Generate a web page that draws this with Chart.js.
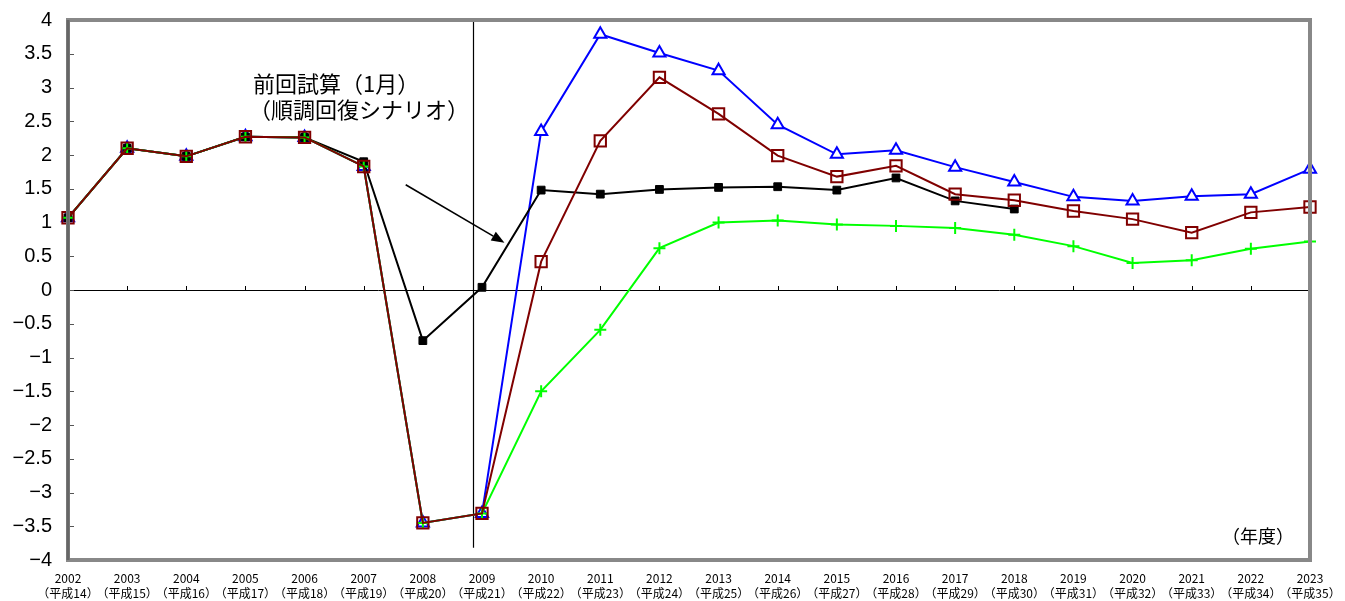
<!DOCTYPE html>
<html>
<head>
<meta charset="utf-8">
<script src="https://cdn.jsdelivr.net/npm/chart.js@4.4.1/dist/chart.umd.min.js"></script>
<style>
  html, body { margin: 0; padding: 0; background: #ffffff; }
  #wrap { width: 1345px; height: 601px; position: relative; }
</style>
</head>
<body>
<div id="wrap"><canvas id="c" width="1345" height="601"></canvas></div>
<script>
// 年度 (fiscal years) and their Heisei-era equivalents
const years = ['2002','2003','2004','2005','2006','2007','2008','2009','2010','2011','2012','2013','2014','2015','2016','2017','2018','2019','2020','2021','2022','2023'];
const heisei = ['（平成14）','（平成15）','（平成16）','（平成17）','（平成18）','（平成19）','（平成20）','（平成21）','（平成22）','（平成23）','（平成24）','（平成25）','（平成26）','（平成27）','（平成28）','（平成29）','（平成30）','（平成31）','（平成32）','（平成33）','（平成34）','（平成35）'];

// 前回試算（1月）（順調回復シナリオ） — ends in 2018
const previousEstimate = [1.07, 2.10, 1.98, 2.27, 2.26, 1.90, -0.75, 0.04, 1.48, 1.42, 1.49, 1.52, 1.53, 1.48, 1.66, 1.32, 1.20, null, null, null, null, null];
// triangle series (highest path)
const highCase = [1.07, 2.10, 1.98, 2.27, 2.26, 1.83, -3.45, -3.31, 2.35, 3.79, 3.51, 3.25, 2.45, 2.01, 2.07, 1.82, 1.60, 1.38, 1.32, 1.39, 1.42, 1.79];
// square series (middle path)
const midCase = [1.07, 2.10, 1.98, 2.27, 2.26, 1.83, -3.45, -3.31, 0.42, 2.21, 3.15, 2.61, 1.99, 1.68, 1.84, 1.42, 1.33, 1.17, 1.05, 0.85, 1.15, 1.23];
// cross series (lowest path)
const lowCase = [1.07, 2.10, 1.98, 2.27, 2.26, 1.83, -3.45, -3.31, -1.50, -0.59, 0.62, 1.00, 1.03, 0.97, 0.95, 0.92, 0.82, 0.65, 0.40, 0.44, 0.61, 0.72];

const yTicks = [4, 3.5, 3, 2.5, 2, 1.5, 1, 0.5, 0, -0.5, -1, -1.5, -2, -2.5, -3, -3.5, -4];

const noteLines = ['前回試算（1月）', '（順調回復シナリオ）'];
const unitLabel = '（年度）';

const JP = '"Noto Sans CJK JP", "Noto Sans", sans-serif';
const NUM = '"Liberation Sans", Arial, sans-serif';

function fmtTick(v) {
  const s = String(Math.abs(v));
  return v < 0 ? '\u2212' + s : s;
}

// frame, inner tick marks, zero line, divider and annotation
const decor = {
  id: 'decor',
  beforeDatasetsDraw(chart) {
    const { ctx, chartArea: a, scales: { x, y } } = chart;
    ctx.save();
    // zero line with small upward ticks at each year
    const y0 = y.getPixelForValue(0);
    ctx.strokeStyle = '#000';
    ctx.lineWidth = 1;
    ctx.beginPath();
    ctx.moveTo(a.left, Math.round(y0) + 0.5);
    ctx.lineTo(a.right, Math.round(y0) + 0.5);
    for (let i = 0; i < years.length; i++) {
      const px = Math.round(x.getPixelForValue(i)) + 0.5;
      ctx.moveTo(px, Math.round(y0) + 0.5);
      ctx.lineTo(px, Math.round(y0) - 4);
    }
    ctx.stroke();
    // inner y tick marks on left axis
    ctx.strokeStyle = '#555';
    ctx.beginPath();
    yTicks.forEach(v => {
      const py = Math.round(y.getPixelForValue(v)) + 0.5;
      ctx.moveTo(a.left, py);
      ctx.lineTo(a.left + 6, py);
    });
    ctx.stroke();
    // divider between actual and projected years
    const xd = Math.round(x.getPixelForValue(6.85)) + 0.5;
    ctx.strokeStyle = '#000';
    ctx.lineWidth = 1.2;
    ctx.beginPath();
    ctx.moveTo(xd, a.top);
    ctx.lineTo(xd, y.getPixelForValue(-3.82));
    ctx.stroke();
    ctx.restore();
  },
  afterDraw(chart) {
    const { ctx, chartArea: a, scales: { x, y } } = chart;
    ctx.save();
    // outer frame
    ctx.strokeStyle = '#888';
    ctx.lineWidth = 4;
    ctx.strokeRect(a.left, a.top, a.right - a.left, a.bottom - a.top);
    ctx.strokeStyle = '#666';
    ctx.lineWidth = 3;
    ctx.beginPath();
    ctx.moveTo(a.left, a.top);
    ctx.lineTo(a.left, a.bottom);
    ctx.stroke();

    // annotation text
    ctx.fillStyle = '#000';
    ctx.font = '22px ' + JP;
    ctx.textBaseline = 'middle';
    ctx.textAlign = 'left';
    const tx = x.getPixelForValue(3.13);
    ctx.fillText(noteLines[0], tx, y.getPixelForValue(3.05));
    ctx.fillText(noteLines[1], tx - 4, y.getPixelForValue(2.67));

    // annotation arrow
    const sx = x.getPixelForValue(5.71), sy = y.getPixelForValue(1.56);
    const ex = x.getPixelForValue(7.38), ey = y.getPixelForValue(0.70);
    const ang = Math.atan2(ey - sy, ex - sx);
    const hl = 13, hw = 5;
    ctx.strokeStyle = '#000';
    ctx.lineWidth = 1.6;
    ctx.beginPath();
    ctx.moveTo(sx, sy);
    ctx.lineTo(ex - hl * Math.cos(ang), ey - hl * Math.sin(ang));
    ctx.stroke();
    ctx.beginPath();
    ctx.moveTo(ex, ey);
    ctx.lineTo(ex - hl * Math.cos(ang) + hw * Math.sin(ang), ey - hl * Math.sin(ang) - hw * Math.cos(ang));
    ctx.lineTo(ex - hl * Math.cos(ang) - hw * Math.sin(ang), ey - hl * Math.sin(ang) + hw * Math.cos(ang));
    ctx.closePath();
    ctx.fill();

    // unit label
    ctx.font = '18px ' + JP;
    ctx.textAlign = 'right';
    ctx.fillText(unitLabel, a.right - 16, y.getPixelForValue(-3.65));
    ctx.restore();
  }
};

const whiteBg = {
  id: 'whiteBg',
  beforeDraw(chart) {
    const { ctx } = chart;
    ctx.save();
    ctx.fillStyle = '#fff';
    ctx.fillRect(0, 0, chart.width, chart.height);
    ctx.restore();
  }
};

new Chart(document.getElementById('c'), {
  type: 'line',
  data: {
    labels: years.map((yr, i) => [yr, heisei[i]]),
    datasets: [
      {
        label: '前回試算（1月）',
        data: previousEstimate,
        borderColor: '#000000',
        backgroundColor: '#000000',
        borderWidth: 2,
        pointStyle: 'rect',
        pointRadius: 5.5,
        pointBorderWidth: 1,
        order: 3
      },
      {
        label: 'high',
        data: highCase,
        borderColor: '#0000ff',
        backgroundColor: '#ffffff',
        borderWidth: 2,
        pointStyle: 'triangle',
        pointRadius: 7,
        pointBorderWidth: 2,
        order: 4
      },
      {
        label: 'low',
        data: lowCase,
        borderColor: '#00ff00',
        backgroundColor: '#00ff00',
        borderWidth: 2,
        pointStyle: 'cross',
        pointRadius: 6,
        pointBorderWidth: 2,
        order: 1
      },
      {
        label: 'mid',
        data: midCase,
        borderColor: '#800000',
        backgroundColor: 'rgba(0,0,0,0)',
        borderWidth: 2,
        pointStyle: 'rect',
        pointRadius: 8,
        pointBorderWidth: 2,
        order: 0
      }
    ]
  },
  options: {
    responsive: false,
    animation: false,
    events: [],
    spanGaps: false,
    layout: { padding: { top: 20, right: 35, left: 0, bottom: 0 } },
    plugins: {
      legend: { display: false },
      tooltip: { enabled: false }
    },
    elements: { line: { tension: 0 } },
    scales: {
      x: {
        type: 'category',
        offset: false,
        grid: { display: false },
        border: { display: false },
        ticks: {
          autoSkip: false,
          maxRotation: 0,
          minRotation: 0,
          padding: 3,
          color: '#000',
          font: { size: 12, family: JP, lineHeight: 1.25 }
        },
        afterFit(scale) { scale.height = 41; }
      },
      y: {
        min: -4,
        max: 4,
        grid: { display: false },
        border: { display: false },
        afterBuildTicks(scale) { scale.ticks = yTicks.map(v => ({ value: v })); },
        ticks: {
          padding: 8,
          color: '#000',
          font: { size: 20, family: NUM },
          callback: v => fmtTick(v)
        },
        afterFit(scale) { scale.width = 68; }
      }
    }
  },
  plugins: [whiteBg, decor]
});
</script>
</body>
</html>
